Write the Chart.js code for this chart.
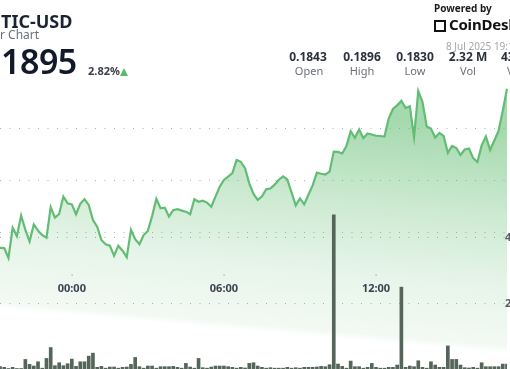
<!DOCTYPE html>
<html>
<head>
<meta charset="utf-8">
<script src="https://cdn.jsdelivr.net/npm/chart.js@4.4.0/dist/chart.umd.min.js"></script>
<style>
  html, body { margin: 0; padding: 0; background: #fff; }
  body { width: 510px; height: 369px; overflow: hidden; position: relative; font-family: "Noto Sans", "Open Sans", sans-serif; }
  #wrap { position: absolute; left: 0; top: 0; width: 510px; height: 369px; }
  .t { position: absolute; white-space: nowrap; line-height: 1; }
  .title { left: 1px; top: 12px; font-size: 18px; font-weight: 700; color: #1b2333; }
  .sub { left: 0; top: 29px; font-size: 12px; color: #6b6f78; }
  .price { left: 1px; top: 44px; font-size: 34px; font-weight: 600; color: #121a2a; letter-spacing: -0.5px; }
  .chg { left: 88px; top: 65px; font-size: 11px; font-weight: 700; color: #3a3f4a; }
  .tri { position: absolute; left: 120px; top: 68px; width: 0; height: 0;
         border-left: 4.5px solid transparent; border-right: 4.5px solid transparent; border-bottom: 8px solid #5cba6c; }
  .pow { left: 434px; top: 3px; font-size: 10px; font-weight: 700; color: #1b1b1b; }
  .logo { position: absolute; left: 434px; top: 20px; width: 8px; height: 8px; border: 2px dashed #111; }
  .brand { left: 449px; top: 17px; font-size: 15px; font-weight: 700; color: #111; letter-spacing: -0.2px; }
  .date { left: 446px; top: 41px; font-size: 10px; color: #a3a6ad; }
  .sv { top: 51px; font-size: 12px; font-weight: 700; color: #2a303c; transform: translateX(-50%); }
  .sl { top: 65px; font-size: 11px; color: #6b6f78; transform: translateX(-50%); }
</style>
</head>
<body>
<div id="wrap"><canvas id="chart" width="510" height="369"></canvas></div>

<div class="t title">TIC-USD</div>
<div class="t sub">r Chart</div>
<div class="t price">1895</div>
<div class="t chg">2.82%</div>
<div class="tri"></div>

<div class="t pow">Powered by</div>
<div class="logo"></div>
<div class="t brand">CoinDesk</div>
<div class="t date">8 Jul 2025 19:11</div>

<div class="t sv" style="left:308px">0.1843</div>
<div class="t sl" style="left:309px">Open</div>
<div class="t sv" style="left:362px">0.1896</div>
<div class="t sl" style="left:362px">High</div>
<div class="t sv" style="left:415px">0.1830</div>
<div class="t sl" style="left:415px">Low</div>
<div class="t sv" style="left:468px">2.32 M</div>
<div class="t sl" style="left:468px">Vol</div>
<div class="t sv" style="left:501px;transform:none">438 K</div>
<div class="t sl" style="left:507px;transform:none">Vol USD</div>

<script>
// 10-minute steps starting 21:10 (previous day)
const startMinutes = 21 * 60 + 10;
const stepMinutes = 10;

const prices = [
  0.18343, 0.18342, 0.18304, 0.18420, 0.18388, 0.18467, 0.18412, 0.18367, 0.18433, 0.18409,
  0.18392, 0.18382, 0.18499, 0.18459, 0.18473, 0.18540, 0.18514, 0.18510, 0.18472, 0.18512,
  0.18530, 0.18508, 0.18450, 0.18424, 0.18373, 0.18357, 0.18351, 0.18313, 0.18351, 0.18332,
  0.18307, 0.18412, 0.18376, 0.18357, 0.18392, 0.18408, 0.18465, 0.18531, 0.18495, 0.18497,
  0.18463, 0.18488, 0.18492, 0.18486, 0.18482, 0.18472, 0.18530, 0.18520, 0.18524, 0.18517,
  0.18501, 0.18540, 0.18578, 0.18604, 0.18617, 0.18630, 0.18681, 0.18674, 0.18649, 0.18591,
  0.18550, 0.18527, 0.18540, 0.18568, 0.18571, 0.18586, 0.18605, 0.18618, 0.18606, 0.18556,
  0.18506, 0.18533, 0.18510, 0.18547, 0.18583, 0.18632, 0.18628, 0.18625, 0.18636, 0.18713,
  0.18712, 0.18706, 0.18734, 0.18792, 0.18766, 0.18798, 0.18765, 0.18783, 0.18779, 0.18774,
  0.18773, 0.18771, 0.18840, 0.18877, 0.18891, 0.18908, 0.18881, 0.18887, 0.18769, 0.18946,
  0.18904, 0.18810, 0.18802, 0.18767, 0.18785, 0.18773, 0.18708, 0.18735, 0.18727, 0.18700,
  0.18721, 0.18725, 0.18688, 0.18673, 0.18737, 0.18771, 0.18719, 0.18756, 0.18792, 0.18869,
  0.18955
];

// volume in thousands
const volumes = [
  7, 5, 1.5, 5, 1.5, 1.5, 29, 14, 9, 22,
  2.5, 32, 65, 10, 19, 10, 16, 30, 8, 22,
  22, 39, 48, 5, 8, 2.5, 6, 6, 2.5, 5,
  6, 14, 35, 7, 2.5, 9, 9, 2.5, 7, 7,
  7, 8, 5, 2.5, 17, 6, 2.5, 32, 4, 2.5,
  6, 9, 9, 9, 7, 5, 2.5, 5, 3, 17,
  19, 9, 5, 2.5, 4, 2.5, 2.5, 2.5, 5, 2.5,
  4, 2.5, 5, 5, 5, 6, 8, 7, 13, 467,
  15, 8, 2.5, 24, 7, 7, 2.5, 5, 17, 5,
  2.5, 2.5, 5, 5, 12, 248, 5, 9, 7, 25,
  5, 2.5, 22, 12, 5, 5, 70, 29, 29, 12,
  4, 3, 5, 2.5, 19, 7, 7, 7, 7, 15,
  15
];

const timeLabels = prices.map((_, i) => {
  const m = (startMinutes + i * stepMinutes) % 1440;
  return String(Math.floor(m / 60)).padStart(2, '0') + ':' + String(m % 60).padStart(2, '0');
});

const xTicks = ['00:00', '06:00', '12:00'];
const priceGrid = [0.184, 0.186, 0.188];
const volumeGrid = [200, 400];
const volumeTickLabels = ['200K', '400K'];

// overlay: time labels, tick dots, volume labels
const overlay = {
  id: 'overlay',
  afterDraw(chart) {
    const { ctx, scales } = chart;
    ctx.save();
    ctx.font = 'bold 11px "Noto Sans", sans-serif';
    ctx.textAlign = 'center';
    ctx.textBaseline = 'middle';
    xTicks.forEach(lbl => {
      const i = timeLabels.indexOf(lbl);
      const x = scales.x.getPixelForValue(i);
      ctx.fillStyle = '#9aa09c';
      ctx.fillRect(Math.round(x) - 0.5, 274.5, 1.2, 1.2);
      ctx.fillStyle = '#3a4150';
      ctx.fillText(lbl, x, 289);
    });
    ctx.textAlign = 'left';
    ctx.fillStyle = '#5a5f66';
    volumeGrid.forEach((v, k) => {
      ctx.fillText(volumeTickLabels[k], 505, scales.yv.getPixelForValue(v) + 1);
    });
    ctx.restore();
  }
};

const ctx = document.getElementById('chart').getContext('2d');
new Chart(ctx, {
  type: 'line',
  data: {
    labels: timeLabels,
    datasets: [{
      type: 'bar',
      data: volumes,
      yAxisID: 'yv',
      backgroundColor: '#56655a',
      barThickness: 3,
      order: 1
    }, {
      data: prices,
      yAxisID: 'y',
      borderColor: '#62bd74',
      borderWidth: 2.2,
      tension: 0,
      pointRadius: 0,
      fill: 'start',
      backgroundColor: (context) => {
        const { ctx, chartArea } = context.chart;
        if (!chartArea) return null;
        // slightly slanted fade, ending along a line that drops to the right
        const g = ctx.createLinearGradient(0, 85, -19.5, 307);
        g.addColorStop(0, 'rgba(92, 186, 108, 0.55)');
        g.addColorStop(0.4, 'rgba(92, 186, 108, 0.30)');
        g.addColorStop(0.7, 'rgba(92, 186, 108, 0.15)');
        g.addColorStop(0.97, 'rgba(92, 186, 108, 0.08)');
        g.addColorStop(1, 'rgba(92, 186, 108, 0.0)');
        return g;
      },
      order: 2
    }]
  },
  options: {
    responsive: false,
    animation: false,
    layout: { padding: { top: 40, right: 3, left: 0, bottom: 0 } },
    plugins: { legend: { display: false }, tooltip: { enabled: false } },
    scales: {
      x: {
        display: false,
        offset: false,
        grid: { offset: false }
      },
      y: {
        position: 'right',
        min: 0.178769,
        max: 0.191423,
        afterBuildTicks: (s) => { s.ticks = priceGrid.map(v => ({ value: v })); },
        ticks: { display: false },
        grid: { color: 'rgba(0,0,0,0.32)', drawTicks: false, lineWidth: 1 },
        border: { display: false, dash: [1, 8.5] }
      },
      yv: {
        position: 'right',
        min: 0,
        max: 997,
        afterBuildTicks: (s) => { s.ticks = volumeGrid.map(v => ({ value: v })); },
        ticks: { display: false },
        grid: { color: 'rgba(0,0,0,0.32)', drawTicks: false, lineWidth: 1 },
        border: { display: false, dash: [1, 8.5] }
      }
    }
  },
  plugins: [overlay]
});
</script>
</body>
</html>
